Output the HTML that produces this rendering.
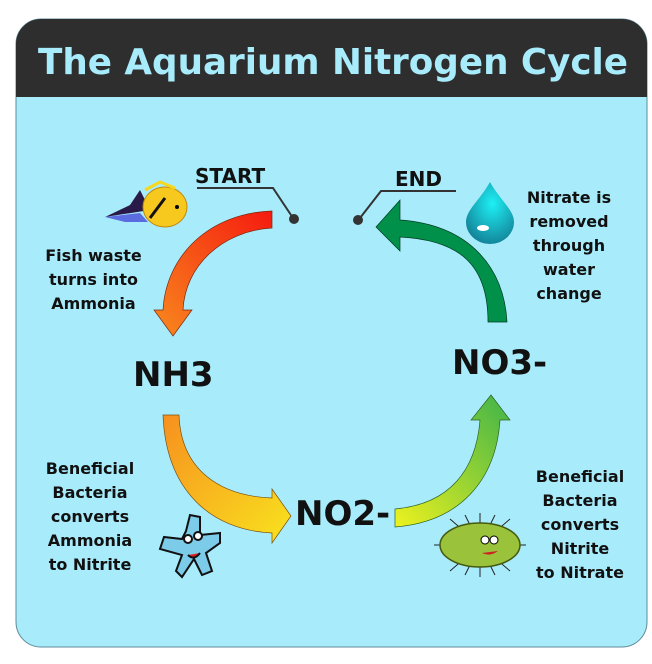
<!DOCTYPE html>
<html><head><style>
body{margin:0;width:652px;height:664px;background:#fff;overflow:hidden;font-family:"DejaVu Sans","Liberation Sans",sans-serif;}
.t{position:absolute;font-weight:bold;color:#111;text-align:center;}
</style></head><body>
<svg width="652" height="664" style="position:absolute;left:0;top:0">
<defs>
<linearGradient id="gr" x1="1" y1="0" x2="0" y2="1"><stop offset="0" stop-color="#f51a0f"/><stop offset="1" stop-color="#f88a1e"/></linearGradient>
<linearGradient id="go" x1="0" y1="0" x2="1" y2="1"><stop offset="0" stop-color="#f7901f"/><stop offset="1" stop-color="#f8e31e"/></linearGradient>
<linearGradient id="gy" x1="0" y1="1" x2="1" y2="0"><stop offset="0" stop-color="#eef21e"/><stop offset="1" stop-color="#3db34a"/></linearGradient>
<radialGradient id="dr" cx="0.55" cy="0.35" r="0.7"><stop offset="0" stop-color="#1ef0f5"/><stop offset="1" stop-color="#127f95"/></radialGradient>
</defs>
<path d="M16,44 a25,25 0 0 1 25,-25 H622 a25,25 0 0 1 25,25 V622 a25,25 0 0 1 -25,25 H41 a25,25 0 0 1 -25,-25 Z" fill="#a8ecfc" stroke="#5e8b99" stroke-width="1"/>
<path d="M16,44 a25,25 0 0 1 25,-25 H622 a25,25 0 0 1 25,25 V97 H16 Z" fill="#2e2e2e"/>
<text x="333" y="74" text-anchor="middle" font-family="DejaVu Sans,Liberation Sans,sans-serif" font-weight="bold" font-size="36" textLength="590" lengthAdjust="spacingAndGlyphs" fill="#a8ecfc">The Aquarium Nitrogen Cycle</text>
<path d="M272,211 V228 C222,231 185,266 183,310 H192 L173,336 L154,310 H163 C166,255 210,213 272,211 Z" fill="url(#gr)" stroke="#7a2a10" stroke-width="0.7"/>
<path d="M163,415 H179 C181,470 220,496 272,498 V489 L291,516 L272,543 V533 C210,530 166,490 163,415 Z" fill="url(#go)" stroke="#7a5010" stroke-width="0.7"/>
<path d="M395,509 C450,504 476,470 480,420 H471 L491,395 L510,420 H500 C496,480 460,522 395,527 Z" fill="url(#gy)" stroke="#306020" stroke-width="0.7"/>
<path d="M488,322 H507 C504,268 470,225 400,220 V200 L376,227 L400,251 V237 C460,240 488,265 488,322 Z" fill="#00904a" stroke="#003a20" stroke-width="0.7"/>
<polyline points="197,188 273,188 293,218" fill="none" stroke="#333" stroke-width="2"/>
<circle cx="294" cy="219" r="5" fill="#333"/>
<polyline points="456,191 381,191 360,218" fill="none" stroke="#333" stroke-width="2"/>
<circle cx="358" cy="220" r="5" fill="#333"/>
<path d="M105,217 L130,205 L140,190 L150,210 Z" fill="#2a1a4a"/>
<path d="M105,217 L140,213 L148,222 L125,222 Z" fill="#5b6ce0"/>
<ellipse cx="165" cy="207" rx="22" ry="20" fill="#f7c81e" stroke="#c08a10"/>
<path d="M145,190 L160,182 L175,188" fill="none" stroke="#f7d81e" stroke-width="3"/>
<path d="M150,218 L165,198" stroke="#111" stroke-width="3"/>
<circle cx="177" cy="207" r="2" fill="#000"/>
<path d="M490,182 C480,200 466,210 466,222 a24,22 0 0 0 48,0 C514,210 500,200 490,182 Z" fill="url(#dr)"/>
<ellipse cx="483" cy="228" rx="6" ry="3" fill="#fff"/>
<g transform="translate(190,545)" fill="#7ccbe8" stroke="#111" stroke-width="2">
<path d="M-4,-14 L0,-30 L10,-28 L10,-10 L30,-12 L30,-2 L16,8 L22,26 L12,30 L4,14 L-8,32 L-14,26 L-8,10 L-30,4 L-26,-8 L-8,-6 Z"/>
<circle cx="-2" cy="-6" r="4" fill="#fff"/><circle cx="8" cy="-9" r="4" fill="#fff"/>
<path d="M-2,10 Q4,16 10,8" fill="#d22" />
</g>
<g transform="translate(480,545)">
<g stroke="#222" stroke-width="1">
<line x1="-46" y1="0" x2="46" y2="0"/><line x1="-30" y1="-26" x2="30" y2="26"/><line x1="30" y1="-26" x2="-30" y2="26"/><line x1="0" y1="-32" x2="0" y2="32"/><line x1="-15" y1="-30" x2="15" y2="30"/><line x1="15" y1="-30" x2="-15" y2="30"/>
</g>
<ellipse cx="0" cy="0" rx="40" ry="22" fill="#9ac23a" stroke="#445a10" stroke-width="1.5"/>
<circle cx="5" cy="-5" r="4" fill="#fff" stroke="#000"/><circle cx="14" cy="-5" r="4" fill="#fff" stroke="#000"/>
<path d="M2,8 Q10,12 18,6" fill="#c22"/>
</g>
</svg>
<div class="t" style="left:195px;top:164px;font-size:20px;">START</div>
<div class="t" style="left:395px;top:167px;font-size:20px;">END</div>
<div class="t" style="left:36px;top:244px;width:115px;font-size:16px;line-height:24px;">Fish waste<br>turns into<br>Ammonia</div>
<div class="t" style="left:515px;top:186px;width:108px;font-size:16px;line-height:24px;">Nitrate is<br>removed<br>through<br>water<br>change</div>
<div class="t" style="left:30px;top:457px;width:120px;font-size:16px;line-height:24px;">Beneficial<br>Bacteria<br>converts<br>Ammonia<br>to Nitrite</div>
<div class="t" style="left:520px;top:465px;width:120px;font-size:16px;line-height:24px;">Beneficial<br>Bacteria<br>converts<br>Nitrite<br>to Nitrate</div>
<div class="t" style="left:133px;top:355px;font-size:34px;">NH3</div>
<div class="t" style="left:452px;top:343px;font-size:34px;">NO3-</div>
<div class="t" style="left:295px;top:494px;font-size:34px;">NO2-</div>
</body></html>
